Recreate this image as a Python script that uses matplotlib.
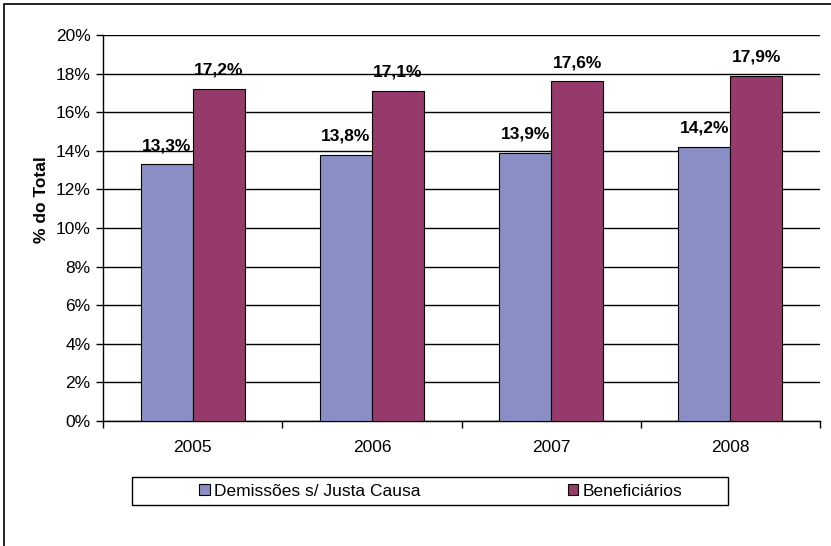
import numpy as np
import matplotlib.pyplot as plt
from matplotlib.patches import Patch, Rectangle
from matplotlib.ticker import FuncFormatter, MultipleLocator

plt.rcParams['font.family'] = ['Liberation Sans', 'DejaVu Sans']

anos = ['2005', '2006', '2007', '2008']
demissoes = [13.3, 13.8, 13.9, 14.2]
beneficiarios = [17.2, 17.1, 17.6, 17.9]
series_names = ['Demissões s/ Justa Causa', 'Beneficiários']
cor_azul = '#8A8EC4'
cor_vinho = '#963A6C'

W, H = 831, 546
fs = 12.5
fig = plt.figure(figsize=(W / 100, H / 100), dpi=100)
ax = fig.add_axes([103 / W, 1 - 421 / H, (820 - 103) / W, (421 - 35) / H])

x = np.arange(len(anos))
w = 0.29
b1 = ax.bar(x - w / 2, demissoes, w, color=cor_azul, edgecolor='black', linewidth=0.8, zorder=3)
b2 = ax.bar(x + w / 2, beneficiarios, w, color=cor_vinho, edgecolor='black', linewidth=0.8, zorder=3)

for bars, vals in [(b1, demissoes), (b2, beneficiarios)]:
    for r, v in zip(bars, vals):
        ax.annotate(f'{v:.1f}%'.replace('.', ','), (r.get_x() + r.get_width() / 2, v),
                    xytext=(0, 8), textcoords='offset points', ha='center', va='bottom',
                    fontsize=fs, fontweight='bold', zorder=4)

ax.set_xlim(-0.5, len(anos) - 0.5)
ax.set_ylim(0, 20)
ax.yaxis.set_major_locator(MultipleLocator(2))
ax.yaxis.set_major_formatter(FuncFormatter(lambda v, p: f'{v:.0f}%'))
ax.grid(axis='y', color='black', linewidth=1, zorder=0)
ax.set_axisbelow(True)

ax.set_xticks(x)
ax.set_xticklabels(anos)
ax.set_xticks(np.arange(-0.5, len(anos)), minor=True)
ax.tick_params(axis='x', which='major', length=0, pad=14, labelsize=fs)
ax.tick_params(axis='x', which='minor', length=5, width=1, direction='out')
ax.tick_params(axis='y', length=5, width=1, labelsize=fs, pad=4)

for s in ['top', 'right']:
    ax.spines[s].set_visible(False)
for s in ['left', 'bottom']:
    ax.spines[s].set_linewidth(1)

fig.text(42 / W, 1 - 200 / H, '% do Total', rotation=90, ha='center', va='center',
         fontsize=fs, fontweight='bold')

# legenda
fig.patches.append(Rectangle((132 / W, 1 - 505 / H), 596 / W, 28 / H, transform=fig.transFigure,
                             facecolor='white', edgecolor='black', linewidth=1))
for name, cor, cx in [(series_names[0], cor_azul, 310), (series_names[1], cor_vinho, 625)]:
    fig.legend(handles=[Patch(facecolor=cor, edgecolor='black', linewidth=0.8, label=name)],
               loc='center', bbox_to_anchor=(cx / W, 1 - 491 / H), frameon=False,
               handlelength=0.6, handleheight=0.6, handletextpad=0.25, fontsize=fs)

# borda da figura
fig.patches.append(Rectangle((4 / W, -0.1), 1.2, 1 - 4 / H + 0.1, transform=fig.transFigure,
                             facecolor='none', edgecolor='black', linewidth=1.2))

fig.savefig('out.png', dpi=100)
